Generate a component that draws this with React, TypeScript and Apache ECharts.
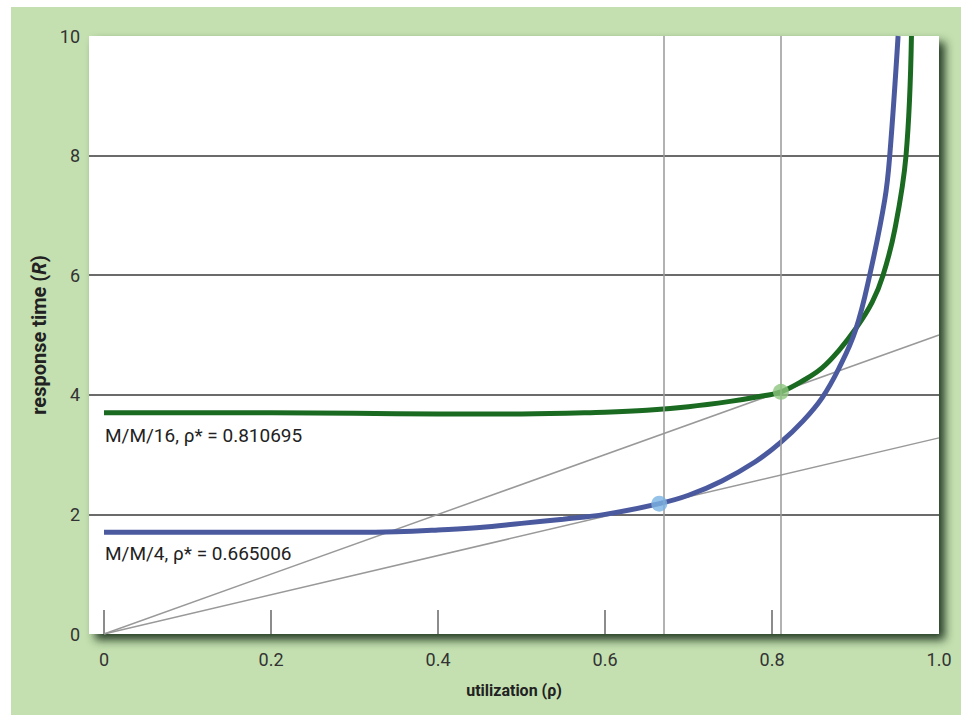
import React, { useEffect, useRef } from "react";
import * as echarts from "echarts";

// Utilization values and response times for the two queues
const mm4Rho = [0, 0.1, 0.2, 0.3, 0.35, 0.4, 0.45, 0.5, 0.55, 0.6, 0.665006, 0.7, 0.74, 0.78, 0.81, 0.837, 0.86, 0.88, 0.9, 0.917, 0.935, 0.941, 0.951];
const mm4R = [1.7, 1.7, 1.7, 1.7, 1.71, 1.74, 1.78, 1.85, 1.92, 2.0, 2.18, 2.32, 2.56, 2.88, 3.2, 3.56, 3.95, 4.44, 5.08, 6.0, 7.26, 8.0, 10];

const mm16Rho = [0, 0.1, 0.2, 0.3, 0.4, 0.5, 0.6, 0.65, 0.7, 0.75, 0.78, 0.810695, 0.84, 0.86, 0.88, 0.9, 0.92, 0.933, 0.947, 0.9605, 0.967];
const mm16R = [3.7, 3.7, 3.7, 3.69, 3.68, 3.68, 3.71, 3.74, 3.8, 3.89, 3.96, 4.05, 4.26, 4.45, 4.74, 5.1, 5.55, 6.0, 6.76, 8.0, 10];

// Knee points and the rays from the origin that touch each curve there
const kneeRho = [0.665006, 0.810695];
const kneeR = [2.18, 4.05];
const rayEndR = [3.28, 5.0];

const xTickValues = [0, 0.2, 0.4, 0.6, 0.8];
const xLabelValues = [0, 0.2, 0.4, 0.6, 0.8, 1.0];
const curveLabels = ["M/M/4, ρ* = 0.665006", "M/M/16, ρ* = 0.810695"];

const BLUE = "#4b5a9f";
const GREEN = "#1b6a22";
const FONT = "Roboto, 'Noto Sans', sans-serif";

const zip = (xs: number[], ys: number[]) => xs.map((x, i) => [x, ys[i]]);

export default function App() {
  const ref = useRef<HTMLDivElement>(null);

  useEffect(() => {
    document.body.style.margin = "0";
    if (!ref.current) return;
    const chart = echarts.init(ref.current, undefined, { renderer: "svg" });

    chart.setOption({
      animation: false,
      backgroundColor: "transparent",
      grid: {
        left: 78,
        top: 29,
        width: 850,
        height: 598,
        show: true,
        backgroundColor: "#ffffff",
        borderWidth: 0,
        shadowBlur: 10,
        shadowColor: "rgba(40,62,40,1)",
        shadowOffsetX: 6,
        shadowOffsetY: 6,
      },
      xAxis: {
        type: "value",
        min: -15 / 835,
        max: 1,
        axisLine: { show: false },
        splitLine: { show: false },
        axisTick: {
          show: true,
          inside: true,
          length: 24,
          customValues: xTickValues,
          lineStyle: { color: "#666", width: 1.5 },
        },
        axisLabel: {
          customValues: xLabelValues,
          formatter: (v: number) => (v === 1 ? "1.0" : String(v)),
          color: "#333",
          fontSize: 18,
          fontFamily: FONT,
          margin: 16,
        },
        name: "utilization (ρ)",
        nameLocation: "middle",
        nameGap: 48,
        nameTextStyle: { color: "#222", fontSize: 16, fontWeight: "bold", fontFamily: FONT },
      },
      yAxis: {
        type: "value",
        min: 0,
        max: 10,
        interval: 2,
        axisLine: { show: false },
        axisTick: { show: false },
        splitLine: {
          show: true,
          showMinLine: false,
          showMaxLine: false,
          lineStyle: { color: "#3a3a3a", width: 1.5 },
        },
        axisLabel: { color: "#333", fontSize: 18, fontFamily: FONT, margin: 9 },
        name: "{b|response time (}{i|R}{b|)}",
        nameLocation: "middle",
        nameRotate: 90,
        nameGap: 36,
        nameTextStyle: {
          rich: {
            b: { color: "#222", fontSize: 20, fontWeight: "bold", fontFamily: FONT },
            i: { color: "#222", fontSize: 20, fontWeight: "bold", fontStyle: "italic", fontFamily: FONT },
          },
        },
      },
      series: [
        {
          type: "line",
          data: [
            [0, 0],
            [1, rayEndR[0]],
          ],
          symbol: "none",
          lineStyle: { color: "#999", width: 1.5 },
          z: 1,
          markLine: {
            silent: true,
            symbol: "none",
            label: { show: false },
            lineStyle: { color: "#999", width: 1.5, type: "solid" },
            data: kneeRho.map((x) => ({ xAxis: x })),
          },
        },
        {
          type: "line",
          data: [
            [0, 0],
            [1, rayEndR[1]],
          ],
          symbol: "none",
          lineStyle: { color: "#999", width: 1.5 },
          z: 1,
        },
        {
          type: "line",
          data: zip(mm16Rho, mm16R),
          symbol: "none",
          smooth: 0.4,
          lineStyle: { color: GREEN, width: 5 },
          z: 3,
        },
        {
          type: "line",
          data: zip(mm4Rho, mm4R),
          symbol: "none",
          smooth: 0.4,
          lineStyle: { color: BLUE, width: 5 },
          z: 3,
        },
        {
          type: "scatter",
          data: [[kneeRho[0], kneeR[0]]],
          symbolSize: 16,
          itemStyle: { color: "#7ab3e2" },
          z: 5,
        },
        {
          type: "scatter",
          data: [[kneeRho[1], kneeR[1]]],
          symbolSize: 16,
          itemStyle: { color: "#8cc67e" },
          z: 5,
        },
      ],
      graphic: [
        {
          type: "text",
          left: 94,
          top: 419,
          z: 10,
          style: { text: curveLabels[1], fill: "#222", font: `19px ${FONT}` },
        },
        {
          type: "text",
          left: 94,
          top: 537,
          z: 10,
          style: { text: curveLabels[0], fill: "#222", font: `19px ${FONT}` },
        },
      ],
    });

    return () => chart.dispose();
  }, []);

  return (
    <div style={{ position: "relative", width: 961, height: 715, background: "#ffffff" }}>
      <div
        ref={ref}
        style={{ position: "absolute", left: 11, top: 7, width: 950, height: 708, background: "#c4e0b0" }}
      />
    </div>
  );
}
